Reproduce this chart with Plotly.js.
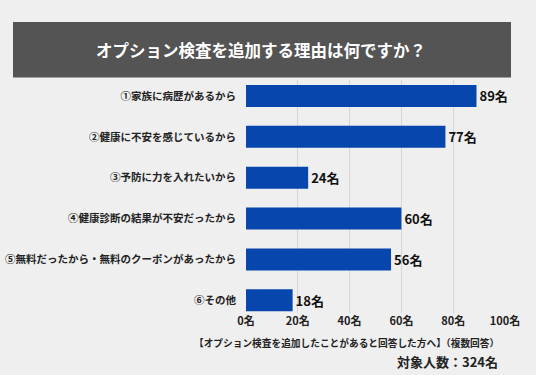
<!DOCTYPE html>
<html>
<head>
<meta charset="utf-8">
<script src="https://cdn.plot.ly/plotly-3.0.1.min.js"></script>
<style>html,body{margin:0;padding:0;background:#efefef;}#chart{width:536px;height:375px;}</style>
</head>
<body>
<div id="chart"></div>
<script>
const categories = [
  "①家族に病歴があるから",
  "②健康に不安を感じているから",
  "③予防に力を入れたいから",
  "④健康診断の結果が不安だったから",
  "⑤無料だったから・無料のクーポンがあったから",
  "⑥その他"
];
const values = [89, 77, 24, 60, 56, 18];
const tickValues = [0, 20, 40, 60, 80, 100];
const tickLabels = ["0名", "20名", "40名", "60名", "80名", "100名"];
const valueLabels = values.map(v => v + "名");
const titleText = "オプション検査を追加する理由は何ですか？";
const noteText = "【オプション検査を追加したことがあると回答した方へ】（複数回答）";
const countText = "対象人数：324名";

const FONT = "'Noto Sans CJK JP', 'Noto Sans', sans-serif";
const L = 246, R = 505, T = 80, B = 313;
const W = R - L, H = B - T;
const px = X => (X - L) / W;
const py = Y => (B - Y) / H;

const trace = {
  type: 'bar',
  orientation: 'h',
  y: categories,
  x: values,
  text: valueLabels,
  textposition: 'outside',
  cliponaxis: false,
  textfont: {family: FONT, size: 13, color: '#111', weight: 700},
  marker: {color: '#0646ad'},
  width: 0.54,
  hoverinfo: 'none'
};

const layout = {
  width: 536, height: 375,
  paper_bgcolor: '#efefef',
  plot_bgcolor: '#efefef',
  margin: {l: L, r: 536 - R, t: T, b: 375 - B, pad: 0},
  showlegend: false,
  font: {family: FONT, color: '#222'},
  xaxis: {
    range: [0, 100],
    tickvals: tickValues,
    ticktext: tickLabels,
    showgrid: true,
    gridcolor: '#d6d6d6',
    gridwidth: 1,
    zeroline: false,
    showline: false,
    ticks: '',
    tickfont: {family: FONT, size: 11, color: '#222', weight: 700},
    fixedrange: true
  },
  yaxis: {
    type: 'category',
    range: [5.31, -0.39],
    showgrid: false,
    zeroline: false,
    showline: false,
    ticks: 'outside',
    ticklen: 7,
    tickcolor: 'rgba(0,0,0,0)',
    tickfont: {family: FONT, size: 10.5, color: '#222', weight: 700},
    fixedrange: true
  },
  shapes: [{
    type: 'rect', xref: 'paper', yref: 'paper',
    x0: px(13), x1: px(511), y0: py(77.5), y1: py(22),
    fillcolor: '#545454', line: {width: 0}, layer: 'above'
  }],
  annotations: [
    {text: titleText, xref: 'paper', yref: 'paper', x: px(261), y: py(50),
     xanchor: 'center', yanchor: 'middle', showarrow: false,
     font: {family: FONT, size: 16.5, color: '#ffffff', weight: 700}},
    {text: noteText, xref: 'paper', yref: 'paper', x: px(501), y: py(343),
     xanchor: 'right', yanchor: 'middle', showarrow: false,
     font: {family: FONT, size: 9.7, color: '#222', weight: 700}},
    {text: countText, xref: 'paper', yref: 'paper', x: px(500), y: py(361),
     xanchor: 'right', yanchor: 'middle', showarrow: false,
     font: {family: FONT, size: 13, color: '#222', weight: 700}}
  ]
};

Plotly.newPlot('chart', [trace], layout, {displayModeBar: false, staticPlot: true});
</script>
</body>
</html>
